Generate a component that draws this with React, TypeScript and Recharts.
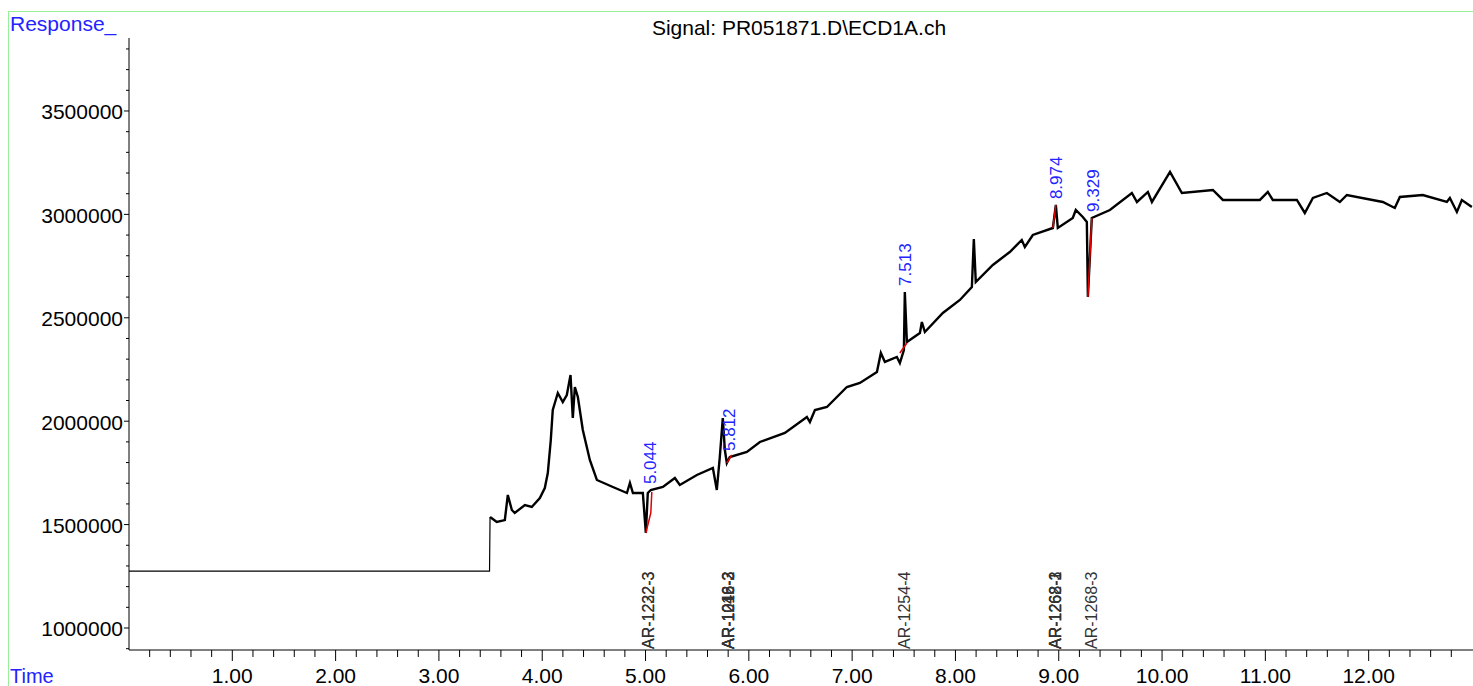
import React from "react";
import { ComposedChart, Line, Scatter, XAxis, YAxis } from "recharts";

// flat pre-run segment, then the detector trace (minutes, response)
const preTimes = [0, 3.49, 3.495];
const preValues = [1275000, 1275000, 1537000];

const traceTimes = [
  3.495, 3.56, 3.638, 3.667, 3.706, 3.734, 3.832, 3.899, 3.977, 4.025, 4.054, 4.083, 4.102, 4.151,
  4.199, 4.238, 4.274, 4.296, 4.316, 4.345, 4.393, 4.461, 4.529, 4.684, 4.82, 4.849, 4.878, 4.974,
  5.003, 5.022, 5.051, 5.168, 5.284, 5.332, 5.497, 5.652, 5.69, 5.719, 5.748, 5.768, 5.787, 5.816,
  5.981, 6.107, 6.349, 6.562, 6.591, 6.64, 6.756, 6.949, 7.075, 7.24, 7.278, 7.317, 7.433, 7.462,
  7.501, 7.51, 7.53, 7.656, 7.675, 7.704, 7.878, 8.043, 8.159, 8.178, 8.197, 8.362, 8.526, 8.642,
  8.672, 8.749, 8.943, 8.972, 8.991, 9.136, 9.165, 9.233, 9.272, 9.282, 9.32, 9.495, 9.708, 9.757,
  9.863, 9.902, 10.077, 10.192, 10.492, 10.589, 10.947, 11.024, 11.072, 11.305, 11.382, 11.46,
  11.595, 11.721, 11.789, 12.137, 12.253, 12.302, 12.524, 12.757, 12.786, 12.854, 12.902, 12.999,
];
const traceValues = [
  1537000, 1512600, 1522000, 1643100, 1570600, 1556100, 1594800, 1585100, 1628600, 1677000, 1749500,
  1909100, 2054200, 2136400, 2092800, 2126700, 2223400, 2015500, 2165400, 2117000, 1957400, 1812400,
  1715700, 1681800, 1652800, 1701100, 1652800, 1652800, 1459400, 1652800, 1667300, 1681800, 1725300,
  1691500, 1739900, 1773700, 1667300, 1826900, 2015500, 1860700, 1797900, 1826900, 1851100, 1899400,
  1942900, 2020300, 1996100, 2054200, 2068700, 2165400, 2184700, 2237900, 2329800, 2286300, 2310400,
  2281400, 2344300, 2624800, 2383000, 2426500, 2479700, 2431400, 2523200, 2586100, 2648900, 2881100,
  2673100, 2755300, 2818200, 2876200, 2842300, 2900400, 2934200, 3045500, 2934200, 2982600, 3021300,
  2987400, 2963200, 2600600, 2982600, 3021300, 3103500, 3060000, 3108300, 3060000, 3205000, 3103500,
  3118000, 3069700, 3069700, 3108300, 3069700, 3069700, 3006800, 3079300, 3103500, 3060000, 3093800,
  3060000, 3031000, 3084200, 3093800, 3060000, 3079300, 3011600, 3069700, 3035800,
];

// integration baselines (red)
const baselineTimes = [
  [5.003, 5.051, 5.061],
  [5.787, 5.835],
  [7.462, 7.53],
  [8.943, 8.972],
  [9.282, 9.32],
];
const baselineValues = [
  [1459400, 1556100, 1657600],
  [1797900, 1836600],
  [2329800, 2378100],
  [2934200, 3045500],
  [2600600, 2982600],
];

const peakTimes = [5.044, 5.812, 7.513, 8.974, 9.329];
const peakHeights = [1667000, 1827000, 2625000, 3045000, 2983000];
const peakLabels = ["5.044", "5.812", "7.513", "8.974", "9.329"];

const compoundTimes = [5.03, 5.03, 5.8, 5.8, 5.8, 5.8, 7.51, 8.97, 8.97, 8.97, 9.32];
const compoundNames = [
  "AR-1232-3", "AR-1222-3",
  "AR-1016-2", "AR-1242-2", "AR-1248-3", "AR-1016-3",
  "AR-1254-4",
  "AR-1268-1", "AR-1268-2", "AR-1262-3",
  "AR-1268-3",
];

const xMajorTicks = [1, 2, 3, 4, 5, 6, 7, 8, 9, 10, 11, 12];
const yMajorTicks = [1000000, 1500000, 2000000, 2500000, 3000000, 3500000];

const X_MIN = 0;
const X_MAX = 13.01;
const Y_MIN = 893600;
const Y_MAX = 3852900;

const xTicks = Array.from({ length: 64 }, (_, i) => Math.round((i + 1) * 0.2 * 10) / 10);
const yTicks = Array.from({ length: 30 }, (_, i) => 900000 + i * 100000);

const FONT = "Arial, 'Liberation Sans', sans-serif";
const BLUE = "#2323ff";

const pre = preTimes.map((t, i) => ({ t, v: preValues[i] }));
const trace = traceTimes.map((t, i) => ({ t, v: traceValues[i] }));
const baselines = baselineTimes.map((ts, k) => ts.map((t, i) => ({ t, v: baselineValues[k][i] })));
const peaks = peakTimes.map((t, i) => ({ t, v: peakHeights[i], label: peakLabels[i] }));
const compounds = compoundTimes.map((t, i) => ({ t, v: Y_MIN, name: compoundNames[i] }));

function renderXTick(props: any) {
  const { x, y, payload } = props;
  const major = xMajorTicks.some((m) => Math.abs(m - payload.value) < 1e-6);
  return (
    <g>
      <line x1={x} x2={x} y1={y} y2={y + (major ? 11 : 7)} stroke="#000" />
      {major && (
        <text x={x} y={y + 33} textAnchor="middle" fontSize={21} fontFamily={FONT} fill="#000">
          {payload.value.toFixed(2)}
        </text>
      )}
    </g>
  );
}

function renderYTick(props: any) {
  const { x, y, payload } = props;
  const major = yMajorTicks.includes(payload.value);
  return (
    <g>
      <line x1={x - (major ? 5 : 3)} x2={x} y1={y} y2={y} stroke="#000" />
      {major && (
        <text x={x - 6} y={y + 8.5} textAnchor="end" fontSize={21} fontFamily={FONT} fill="#000">
          {payload.value}
        </text>
      )}
    </g>
  );
}

function PeakLabel(props: any) {
  const { cx, cy, payload } = props;
  const x = cx + 6;
  const y = cy - 6;
  return (
    <text x={x} y={y} transform={`rotate(-90, ${x}, ${y})`} fontSize={17} fontFamily={FONT} fill={BLUE}>
      {payload.label}
    </text>
  );
}

function CompoundLabel(props: any) {
  const { cx, cy, payload } = props;
  const x = cx + 5.5;
  const y = cy - 1;
  return (
    <text x={x} y={y} transform={`rotate(-90, ${x}, ${y})`} fontSize={16} fontFamily={FONT} fill="#333">
      {payload.name}
    </text>
  );
}

export default function App() {
  return (
    <div style={{ position: "fixed", left: 0, top: 0, width: 1473, height: 686, background: "#fff", overflow: "hidden" }}>
      <ComposedChart width={1473} height={686} margin={{ top: 38, right: 0, bottom: 0, left: 0 }}>
        <XAxis
          type="number"
          dataKey="t"
          domain={[X_MIN, X_MAX]}
          ticks={xTicks}
          interval={0}
          tickSize={0}
          tickMargin={0}
          tickLine={false}
          tick={renderXTick}
          height={36}
          axisLine={{ stroke: "#000" }}
          allowDataOverflow
        />
        <YAxis
          type="number"
          domain={[Y_MIN, Y_MAX]}
          ticks={yTicks}
          interval={0}
          tickSize={0}
          tickMargin={0}
          tickLine={false}
          tick={renderYTick}
          width={129}
          axisLine={{ stroke: "#000" }}
          allowDataOverflow
        />
        <Line data={pre} dataKey="v" type="linear" stroke="#000" strokeWidth={1.2} dot={false} activeDot={false} isAnimationActive={false} />
        <Line data={trace} dataKey="v" type="linear" stroke="#000" strokeWidth={2.4} dot={false} activeDot={false} isAnimationActive={false} />
        {baselines.map((b, i) => (
          <Line key={i} data={b} dataKey="v" type="linear" stroke="#e00000" strokeWidth={1.5} dot={false} activeDot={false} isAnimationActive={false} />
        ))}
        <Scatter data={peaks} dataKey="v" shape={PeakLabel} isAnimationActive={false} />
        <Scatter data={compounds} dataKey="v" shape={CompoundLabel} isAnimationActive={false} />
      </ComposedChart>
      <svg width={1473} height={686} style={{ position: "absolute", left: 0, top: 0, pointerEvents: "none" }}>
        <line x1={8} x2={1473} y1={11.5} y2={11.5} stroke="#99ee99" />
        <line x1={8.5} x2={8.5} y1={11} y2={686} stroke="#99ee99" />
        <text x={10} y={31} fontSize={21} fontFamily={FONT} fill={BLUE}>Response_</text>
        <text x={10} y={683} fontSize={20} fontFamily={FONT} fill={BLUE}>Time</text>
        <text x={799} y={35} textAnchor="middle" fontSize={21} fontFamily={FONT} fill="#000">
          Signal: PR051871.D\ECD1A.ch
        </text>
      </svg>
    </div>
  );
}
